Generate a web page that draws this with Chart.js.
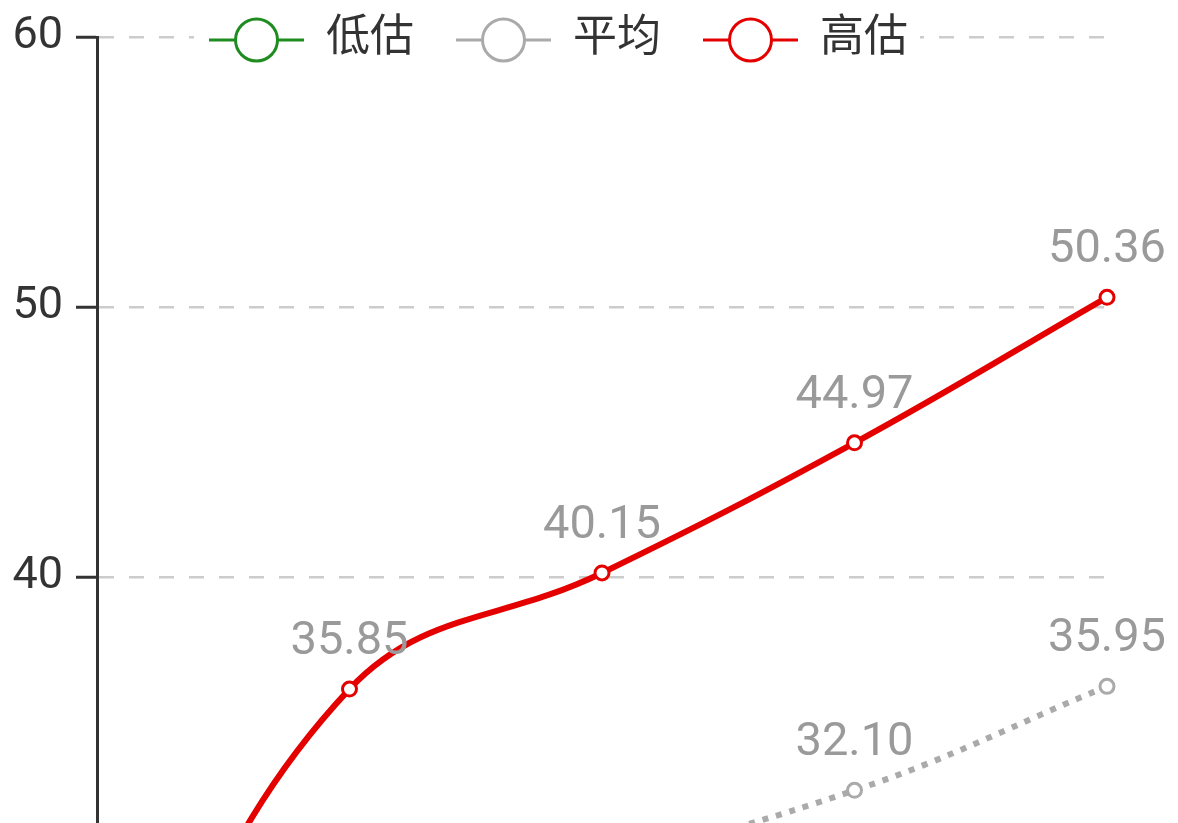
<!DOCTYPE html>
<html lang="zh-CN"><head>
<meta charset="UTF-8">
<title>估值区间</title>
<script src="https://cdn.jsdelivr.net/npm/chart.js@4.4.0/dist/chart.umd.min.js"></script>
<style>
  html, body { margin:0; padding:0; background:#ffffff; overflow:hidden; }
  #val_chart { display:block; }
</style>
</head>
<body>
<canvas id="val_chart" width="1178" height="823"></canvas>
<script>
// data
const labels = ['2019', '2020', '2021', '2022', '2023'];
const lowData = [15.90, 17.95, 19.17, 19.23, 21.54];
const avgData = [20.10, 28.90, 29.66, 32.10, 35.95];
const highData = [20.20, 35.85, 40.15, 44.97, 50.36];
const seriesNames = ['低估', '平均', '高估'];
const seriesColors = ['#1e8c1e', '#aaaaaa', '#e50000'];
const yMin = 30.89, yMax = 60, yStep = 10;

const FONT = 'Roboto, "Noto Sans CJK SC", sans-serif';

// legend icon: short line with open circle
function makeIcon(color) {
	const c = document.createElement('canvas');
	c.width = 95; c.height = 48;
	const g = c.getContext('2d');
	g.strokeStyle = color;
	g.lineWidth = 3;
	g.beginPath(); g.moveTo(0, 24); g.lineTo(95, 24); g.stroke();
	g.beginPath(); g.arc(47.5, 24, 21, 0, Math.PI * 2);
	g.fillStyle = '#ffffff'; g.fill(); g.stroke();
	return c;
}
const icons = seriesColors.map(makeIcon);

// value labels above points
const valueLabels = {
	id: 'valueLabels',
	afterDatasetsDraw(chart) {
		const ctx = chart.ctx, area = chart.chartArea;
		ctx.save();
		ctx.font = '47px ' + FONT;
		ctx.fillStyle = '#9a9a9a';
		ctx.textAlign = 'center';
		ctx.textBaseline = 'alphabetic';
		chart.data.datasets.forEach((ds, i) => {
			const meta = chart.getDatasetMeta(i);
			meta.data.forEach((pt, j) => {
				if (pt.y < area.top - 1 || pt.y > area.bottom) return;
				ctx.fillText(ds.data[j].toFixed(2), pt.x, pt.y - 35);
			});
		});
		ctx.restore();
	}
};

// put the legend on top of the 60 grid line
const legendOnGrid = {
	id: 'legendOnGrid',
	afterInit(chart) {
		const lg = chart.legend;
		const orig = lg.draw;
		lg.draw = function(area) {
			const hb = this.legendHitBoxes;
			if (hb && hb.length) {
				const yTop = chart.scales.y.getPixelForValue(yMax);
				const last = hb[hb.length - 1];
				const ctx = chart.ctx;
				ctx.save();
				ctx.fillStyle = '#ffffff';
				ctx.fillRect(hb[0].left - 15, yTop - 6, last.left + last.width + 27 - hb[0].left, 12);
				ctx.restore();
			}
			orig.call(this, area);
		};
	},
	afterLayout(chart) {
		const lg = chart.legend;
		const yTop = chart.scales.y.getPixelForValue(yMax);
		const pad = lg.options.labels.padding;
		const h = lg.height;
		lg.top = yTop - pad - 19;
		lg.bottom = lg.top + h;
		lg.left += 5;
		lg.right += 5;
	}
};

const cData = {
	labels: labels,
	datasets: [
		{
			label: seriesNames[0],
			data: lowData,
			borderColor: seriesColors[0],
			backgroundColor: '#ffffff',
			borderWidth: 5,
			tension: 0.4,
			pointRadius: 7,
			pointBorderWidth: 3,
			pointBackgroundColor: '#ffffff'
		},
		{
			label: seriesNames[1],
			data: avgData,
			borderColor: seriesColors[1],
			backgroundColor: '#ffffff',
			borderWidth: 6,
			borderDash: [6, 8],
			tension: 0.4,
			pointRadius: 7,
			pointBorderWidth: 3,
			pointBackgroundColor: '#ffffff'
		},
		{
			label: seriesNames[2],
			data: highData,
			borderColor: seriesColors[2],
			backgroundColor: '#ffffff',
			borderWidth: 6,
			tension: 0.4,
			pointRadius: 7,
			pointBorderWidth: 3,
			pointBackgroundColor: '#ffffff'
		}
	]
};

const cOptions = {
	responsive: false,
	animation: false,
	layout: { autoPadding: false, padding: { top: -59, right: 71, bottom: 0, left: 0 } },
	scales: {
		x: { display: false },
		y: {
			min: yMin,
			max: yMax,
			afterFit(s) { s.width = 97; s.paddingTop = 0; s.paddingBottom = 0; },
			ticks: {
				stepSize: yStep,
				includeBounds: false,
				padding: 13,
				color: '#333333',
				font: { size: 45, family: FONT }
			},
			grid: {
				color: '#cccccc',
				lineWidth: 2.5,
				tickLength: 21,
				tickColor: '#333333',
				tickWidth: 3
			},
			border: { display: true, color: '#333333', width: 3, dash: [15, 15] }
		}
	},
	plugins: {
		legend: {
			display: true,
			position: 'top',
			labels: {
				usePointStyle: true,
				pointStyleWidth: 95,
				padding: 42,
				color: '#333333',
				font: { size: 44, family: FONT },
				generateLabels(chart) {
					const items = Chart.defaults.plugins.legend.labels.generateLabels(chart);
					items.forEach((it, i) => { it.pointStyle = icons[i]; it.fontColor = '#333333'; });
					return items;
				}
			}
		},
		tooltip: { enabled: false }
	}
};

const vChart = new Chart(document.getElementById('val_chart'), {
	type: 'line',
	data: cData,
	options: cOptions,
	plugins: [legendOnGrid, valueLabels]
});
</script>
</body></html>
